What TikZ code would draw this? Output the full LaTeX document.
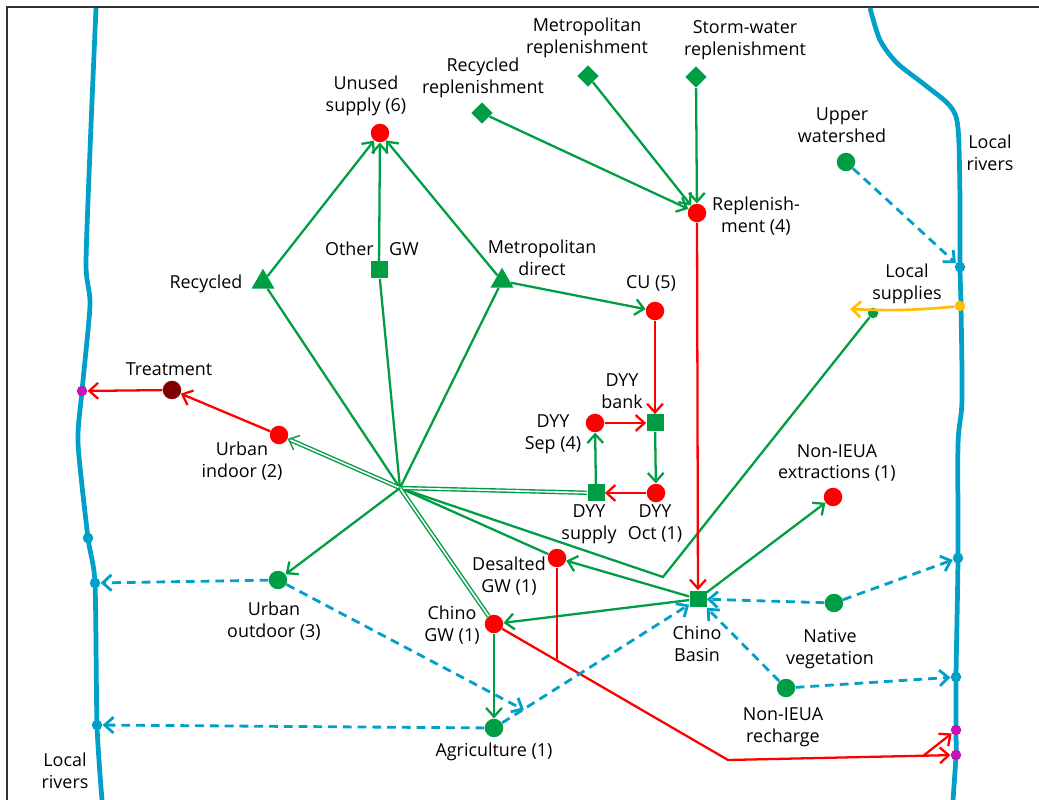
\documentclass[tikz,border=0pt]{standalone}
\usepackage{fontspec}
\setmainfont{Open Sans}
\usetikzlibrary{shapes.geometric,arrows.meta,calc}
\definecolor{flowgreen}{RGB}{0,158,68}
\definecolor{flowred}{RGB}{255,0,0}
\definecolor{riverblue}{RGB}{0,160,200}
\definecolor{supplyyellow}{RGB}{255,190,0}
\definecolor{outmagenta}{RGB}{200,20,180}
\definecolor{darkred}{RGB}{128,0,0}
\definecolor{framegray}{RGB}{50,50,50}

\begin{document}
\begin{tikzpicture}[x=0.02cm, y=-0.02cm,
  txt/.style={align=center, inner sep=0pt, font=\fontsize{10.2}{12.5}\selectfont},
  rdot/.style={circle, fill=flowred, minimum size=0.37cm, inner sep=0pt},
  gdot/.style={circle, fill=flowgreen, minimum size=0.37cm, inner sep=0pt},
  gsq/.style={rectangle, fill=flowgreen, minimum size=0.34cm, inner sep=0pt},
  gtri/.style={regular polygon, regular polygon sides=3, fill=flowgreen,
    minimum size=0.53cm, inner sep=0pt},
  gdia/.style={diamond, fill=flowgreen, minimum size=0.43cm, inner sep=0pt},
  rvdot/.style={circle, fill=riverblue, minimum size=0.21cm, inner sep=0pt},
  mgdot/.style={circle, fill=outmagenta, minimum size=0.21cm, inner sep=0pt},
  barb/.style={-{Straight Barb[length=5pt,width=9pt]}},
  gflow/.style={draw=flowgreen, line width=1.3pt},
  rflow/.style={draw=flowred, line width=1.3pt},
  bflow/.style={draw=riverblue, line width=1.6pt, dash pattern=on 5pt off 3.4pt},
  river/.style={draw=riverblue, line width=2.7pt, line join=round},
]
  \fill[white] (0,0) rectangle (1039,800);
  \useasboundingbox (0,0) rectangle (1039,800);
  \draw[framegray, line width=1.3pt] (7,800) -- (7,7) -- (1039,7);

  % Local rivers
  \draw[river] plot[smooth, tension=0.4] coordinates {(96,8) (90,150) (86,265)
    (90,305) (82,391) (78,443) (88,538) (95,583) (97,725) (102,800)};
  \draw[river] plot[smooth, tension=0.5] coordinates {(870,8) (880,40) (897,63)
    (925,85) (950,106) (958,128) (960,200) (960,267) (961,306) (962,400)
    (958,445) (958,558) (956,677) (956,730) (956,755) (953,800)};
  \node[rvdot] (rvR1) at (960,267) {};
  \node[circle, fill=supplyyellow, minimum size=0.21cm, inner sep=0pt] (ylw) at (960,306) {};
  \node[rvdot] (rvR2) at (958,558) {};
  \node[rvdot] (rvR3) at (956,677) {};
  \node[mgdot] (mgR1) at (956,730) {};
  \node[mgdot] (mgR2) at (956,755) {};
  \node[mgdot] (mgL) at (82,391) {};
  \node[rvdot] (rvL1) at (88,538) {};
  \node[rvdot] (rvL2) at (95,583) {};
  \node[rvdot] (rvL3) at (97,725) {};
  \node[txt] (rivR-t) at (990,153) {Local\\rivers};
  \node[txt] (rivL-t) at (65,771) {Local\\rivers};

  % Supplies and demands
  \node[rdot] (unused) at (380,133) {};
  \node[txt] (unused-t) at (366,96) {Unused\\supply (6)};
  \node[gdia] (rrep) at (482,113) {};
  \node[txt] (rrep-t) at (483,78) {Recycled\\replenishment};
  \node[gdia] (mrep) at (588,76) {};
  \node[txt] (mrep-t) at (587,38) {Metropolitan\\replenishment};
  \node[gdia] (srep) at (696,77) {};
  \node[txt] (srep-t) at (745,40) {Storm-water\\replenishment};
  \node[rdot] (rep) at (697,213) {};
  \node[txt] (rep-t) at (756,216) {Replenish-\\ment (4)};
  \node[gdot] (upw) at (846,162) {};
  \node[txt] (upw-t) at (842,125) {Upper\\watershed};
  \node[gsq] (ogw) at (379,270) {};
  \node[txt] (ogw-t) at (372,249) {Other\hspace{0.6em} GW};
  \node[gtri] (rec) at (263,282) {};
  \node[txt] (rec-t) at (206,284) {Recycled};
  \node[gtri] (md) at (502,281) {};
  \node[txt] (md-t) at (542,258) {Metropolitan\\direct};
  \node[rdot] (cu) at (655,311) {};
  \node[txt] (cu-t) at (651,283) {CU (5)};
  \node[circle, fill=flowgreen, minimum size=0.21cm, inner sep=0pt] (ls) at (873,313) {};
  \node[txt] (ls-t) at (907,284) {Local\\supplies};
  \node[circle, fill=darkred, minimum size=0.37cm, inner sep=0pt] (treat) at (172,390) {};
  \node[txt] (treat-t) at (169,369) {Treatment};
  \node[gsq] (bank) at (655,423) {};
  \node[txt] (bank-t) at (622,391) {DYY\\bank};
  \node[rdot] (sep) at (595,423) {};
  \node[txt] (sep-t) at (553,434) {DYY\\Sep (4)};
  \node[rdot] (uin) at (279,435) {};
  \node[txt] (uin-t) at (242,461) {Urban\\indoor (2)};
  \node[rdot] (ext) at (833,497) {};
  \node[txt] (ext-t) at (837,463) {Non-IEUA\\extractions (1)};
  \node[gsq] (sup) at (596,493) {};
  \node[txt] (sup-t) at (589,524) {DYY\\supply};
  \node[rdot] (oct) at (656,493) {};
  \node[txt] (oct-t) at (655,524) {DYY\\Oct (1)};
  \node[rdot] (des) at (557,558) {};
  \node[txt] (des-t) at (509,576) {Desalted\\GW (1)};
  \node[gdot] (uout) at (278,580) {};
  \node[txt] (uout-t) at (274,621) {Urban\\outdoor (3)};
  \node[rdot] (cgw) at (494,624) {};
  \node[txt] (cgw-t) at (452,625) {Chino\\GW (1)};
  \node[gsq] (cb) at (698,599) {};
  \node[txt] (cb-t) at (697,644) {Chino\\Basin};
  \node[gdot] (nv) at (834,603) {};
  \node[txt] (nv-t) at (830,649) {Native\\vegetation};
  \node[gdot] (nir) at (786,688) {};
  \node[txt] (nir-t) at (783,727) {Non-IEUA\\recharge};
  \node[gdot] (agr) at (494,728) {};
  \node[txt] (agr-t) at (494,752) {Agriculture (1)};

  % Junctions
  \coordinate (hub) at (400,488);
  \coordinate (bend) at (663,577);
  \coordinate (lsend) at (850,309);
  \coordinate (djoin) at (557,660);
  \coordinate (rbend) at (728,760);
  \coordinate (rbr) at (923,756);
  \coordinate (amerge) at (524,710);

  % Green flows
  \draw[gflow, barb] (rec) -- (unused);
  \draw[gflow, barb] (ogw) -- (unused);
  \draw[gflow, barb] (md) -- (unused);
  \draw[gflow, barb] (rrep) -- (rep);
  \draw[gflow, barb] (mrep) -- (rep);
  \draw[gflow, barb] (srep) -- (rep);
  \draw[gflow, barb] (md) -- (cu);
  \draw[gflow, barb] (bank) -- (oct);
  \draw[gflow, barb] (sup) -- (sep);
  \draw[gflow, barb] (cb) -- (cgw);
  \draw[gflow, barb] (cb) -- (des);
  \draw[gflow, barb] (cb) -- (ext);
  \draw[gflow, barb] (cgw) -- (agr);
  \draw[gflow] (rec) -- (hub);
  \draw[gflow] (ogw) -- (hub);
  \draw[gflow] (md) -- (hub);
  \draw[gflow] (des) -- (hub);
  \draw[gflow] (ls) -- (bend) -- (hub);
  \draw[gflow, line width=0.8pt, double=white, double distance=0.9pt] (sup) -- (hub);
  \draw[gflow, line width=0.8pt, double=white, double distance=0.9pt] (cgw) -- (hub);
  \draw[gflow, line width=0.8pt, double=white, double distance=0.9pt, barb] (hub) -- (uin);
  \draw[gflow, barb] (hub) -- (uout);

  % Red flows
  \draw[rflow, barb] (cu) -- (bank);
  \draw[rflow, barb] (sep) -- (bank);
  \draw[rflow, barb] (oct) -- (sup);
  \draw[rflow, barb] (rep) -- (cb);
  \draw[rflow, barb] (uin) -- (treat);
  \draw[rflow, barb] (treat) -- (mgL);
  \draw[rflow] (des) -- (djoin);
  \draw[rflow, barb] (cgw) -- (rbend) -- (mgR2);
  \draw[rflow, barb] (rbr) -- (mgR1);

  % Local supplies
  \draw[supplyyellow, line width=1.5pt, barb] (ylw) to[bend left=4] (lsend);

  % Dashed river flows
  \draw[bflow, barb] (upw) -- (rvR1);
  \draw[bflow, barb] (nv) -- (cb);
  \draw[bflow, barb] (nv) -- (rvR2);
  \draw[bflow, barb] (nir) -- (cb);
  \draw[bflow, barb] (nir) -- (rvR3);
  \draw[bflow, barb] (uout) -- (rvL2);
  \draw[bflow, barb] (uout) -- (amerge);
  \draw[bflow, barb] (agr) -- (rvL3);
  \draw[bflow, barb] (agr) -- (cb);
\end{tikzpicture}
\end{document}
